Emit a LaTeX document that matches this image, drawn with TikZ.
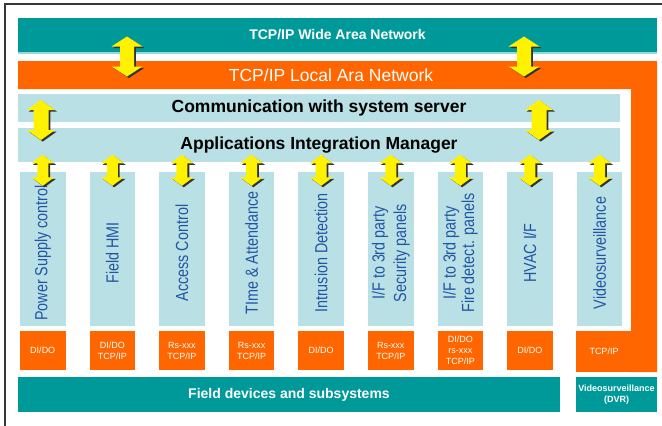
\documentclass[tikz,border=0pt]{standalone}
\usepackage{fontspec}
\setmainfont{Liberation Sans}
\newfontfamily\condfont[FakeStretch=0.82]{Liberation Sans}
\usetikzlibrary{calc}

\definecolor{wanteal}{RGB}{0,153,153}
\definecolor{lanorange}{RGB}{255,102,0}
\definecolor{paleblue}{RGB}{185,224,228}
\definecolor{labelblue}{RGB}{35,85,165}
\definecolor{framegray}{RGB}{55,55,55}

% 黄色の両矢印（影つき）
\tikzset{
  pics/yarrow/.style n args={4}{code={
    % #1:長さ #2:矢じり半幅 #3:軸半幅 #4:矢じり長さ
    \pgfmathsetmacro{\arrhalf}{#1/2}
    \pgfmathsetmacro{\arrneck}{#1/2-#4}
    \foreach \dx/\dy/\col in {1.8/1.5/black!80, 0/0/yellow} {
      \fill[\col, shift={(\dx,\dy)}] (0,-\arrhalf) -- (#2,-\arrneck) -- (#3,-\arrneck)
        -- (#3,\arrneck) -- (#2,\arrneck) -- (0,\arrhalf) -- (-#2,\arrneck)
        -- (-#3,\arrneck) -- (-#3,-\arrneck) -- (-#2,-\arrneck) -- cycle;
    }
  }}
}

\begin{document}
\begin{tikzpicture}[x=1pt,y=-1pt,
  band/.style={inner sep=0pt, minimum width=602},
  boldbig/.style={font=\bfseries\fontsize{17.5}{20}\selectfont},
  panel/.style={fill=paleblue, inner sep=0pt, minimum width=45.5, minimum height=154},
  collabel/.style={rotate=90, align=center, inner sep=0pt, text=labelblue,
    font=\condfont\fontsize{17.5}{18.5}\selectfont},
  iobox/.style={fill=lanorange, inner sep=0pt, minimum width=45.5, minimum height=39,
    align=center, text=white, font=\fontsize{9}{11}\selectfont},
  tealbox/.style={fill=wanteal, inner sep=0pt, minimum height=35, text=white}
]

    % パラメータの定義
    \pgfmathsetmacro{\pitch}{69.6}
    \pgfmathsetmacro{\xfirst}{42.75}

    % 背景と枠
    \useasboundingbox (0,0) rectangle (662,426);
    \fill[white] (0,0) rectangle (662,426);
    \draw[framegray, line width=1.3pt] (5,426) -- (5,4) -- (662,4);

    % WAN
    \node[tealbox, minimum width=639, minimum height=34,
      font=\bfseries\fontsize{14}{16}\selectfont] (wan) at (337.5,35) {TCP/IP Wide Area Network};
    \fill[wanteal!40] (wan.south west) rectangle ++(639,2);

    % LAN（L字）
    \fill[lanorange] (18,61) -- (657,61) -- (657,372) -- (631,372) -- (631,89) -- (18,89) -- cycle;
    \node[text=white, font=\fontsize{17.5}{20}\selectfont] (lan) at (331,75) {TCP/IP Local Ara Network};

    % サーバ通信とAIM
    \node[band, fill=paleblue, minimum height=28, boldbig] (comm) at (319,108) {Communication with system server};
    \node[band, fill=paleblue, minimum height=34, boldbig] (aim) at (319,145) {Applications Integration Manager};

    % サブシステムの列
    \foreach \i/\txt in {1/{Power Supply control}, 2/{Field HMI}, 3/{Access Control},
        4/{TIme \& Attendance}, 5/{Intrusion Detection},
        6/{I/F to 3rd party\\[3pt]Security panels}, 7/{I/F to 3rd party\\Fire detect. panels},
        8/{HVAC I/F}, 9/{Videosurveillance}} {
        \pgfmathsetmacro{\cx}{\xfirst + (\i-1)*\pitch}
        \node[panel] (col\i) at (\cx,249) {};
        \node[collabel] (lab\i) at (\cx,253) {\txt};
    }

    % インターフェース
    \foreach \i/\txt in {1/{DI/DO}, 2/{DI/DO\\TCP/IP}, 3/{Rs-xxx\\TCP/IP}, 4/{Rs-xxx\\TCP/IP},
        5/{DI/DO}, 6/{Rs-xxx\\TCP/IP}, 7/{DI/DO\\rs-xxx\\TCP/IP}, 8/{DI/DO}} {
        \pgfmathsetmacro{\cx}{\xfirst + (\i-1)*\pitch}
        \node[iobox] (io\i) at (\cx,350.5) {\txt};
    }
    \node[iobox, minimum width=56, minimum height=41] (io9) at (604,351.5) {TCP/IP};

    % フィールド機器
    \node[tealbox, minimum width=542, font=\bfseries\fontsize{14}{16}\selectfont] (field) at (289,394.5) {Field devices and subsystems};
    \node[tealbox, minimum width=81, align=center, font=\bfseries\fontsize{9}{10.5}\selectfont] (dvr) at (616.5,394.5) {Videosurveillance\\(DVR)};

    % 矢印
    \foreach \ax in {127,524} {
        \pic at (\ax,56.5) {yarrow={40}{15.5}{7}{10}};
    }
    \foreach \ax in {41,539} {
        \pic at (\ax,120) {yarrow={40}{14}{7.5}{10}};
    }
    \foreach \i in {1,...,9} {
        \pic at ($(col\i.north)+(0,-1.5)$) {yarrow={31}{11.5}{5.5}{8.5}};
    }
    %
\end{tikzpicture}
\end{document}
